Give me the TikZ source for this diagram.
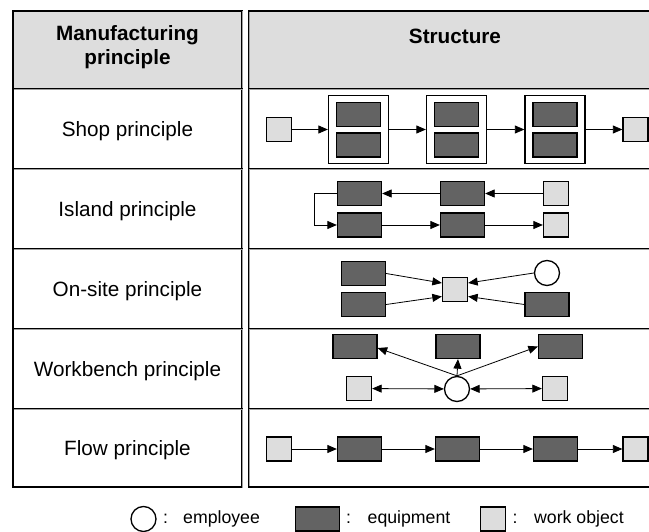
\documentclass[tikz,border=0pt]{standalone}
\usepackage{fontspec}
\setmainfont{Liberation Sans}
\usetikzlibrary{arrows.meta,calc}
\definecolor{wofill}{HTML}{DDDDDD}
\definecolor{eqfill}{HTML}{636363}
\definecolor{hdrfill}{HTML}{DDDDDD}
\definecolor{corecol}{HTML}{A0A0A0}
\begin{document}
\begin{tikzpicture}[x=1pt,y=-1pt,
  cellb/.style={draw=black, line width=0.9pt, double=corecol, double distance=0.9pt},
  outerb/.style={draw=black, line width=2.6pt},
  wo/.style={draw=black, line width=1.3pt, fill=wofill, minimum width=25pt, minimum height=24pt, inner sep=0pt},
  eq/.style={draw=black, line width=1.3pt, fill=eqfill, minimum width=44pt, minimum height=24pt, inner sep=0pt},
  emp/.style={circle, draw=black, line width=1.3pt, fill=white, minimum size=25pt, inner sep=0pt},
  frm/.style={draw=black, line width=1.3pt, fill=white, minimum width=60pt, minimum height=68pt, inner sep=0pt},
  tip/.tip={Triangle[length=9.5pt,width=8pt]},
  arr/.style={line width=0.8pt, -tip},
  darr/.style={line width=0.8pt, tip-tip},
  lbl/.style={font=\fontsize{20.7}{24}\selectfont, align=center, inner sep=0pt},
  hlbl/.style={font=\fontsize{20.7}{24}\selectfont\bfseries, align=center, inner sep=0pt},
  lgd/.style={font=\fontsize{17.7}{20}\selectfont, inner sep=0pt, anchor=west},
]
\path[use as bounding box, clip] (0,0) rectangle (649,532);
\fill[white] (0,0) rectangle (649,532);

% table cells
\filldraw[cellb, fill=hdrfill] (13,11) rectangle (242,89);
\filldraw[cellb, fill=hdrfill] (249,11) rectangle (662,89);
\foreach \ya/\yb in {89/169, 169/249, 249/329, 329/409, 409/487} {
  \draw[cellb] (13,\ya) rectangle (242,\yb);
  \draw[cellb] (249,\ya) rectangle (662,\yb);
}
\draw[outerb] (13,487) -- (13,11) -- (242,11);
\draw[outerb] (249,11) -- (662,11);
\draw[outerb] (13,487) -- (242,487);
\draw[outerb] (249,487) -- (662,487);

% header texts
\node[hlbl] (hmp) at (127.5,47) {Manufacturing\\principle};
\node[hlbl] (hst) at (455,36) {Structure};

% row labels
\node[lbl] (lshop) at (127.5,131) {Shop principle};
\node[lbl] (lisl) at (127.5,211) {Island principle};
\node[lbl] (lons) at (127.5,291) {On-site principle};
\node[lbl] (lwb) at (127.5,371) {Workbench principle};
\node[lbl] (lflow) at (127.5,450) {Flow principle};

% Shop principle
\node[wo] (s0) at (279,129.5) {};
\foreach \i/\x in {1/358.5, 2/456.5, 3/555} {
  \node[frm] (sf\i) at (\x,129.5) {};
  \node[eq] (sa\i) at (\x,114.5) {};
  \node[eq] (sb\i) at (\x,145) {};
}
\node[wo] (s4) at (635.5,129.5) {};
\draw[arr] (s0) -- (sf1);
\draw[arr] (sf1) -- (sf2);
\draw[arr] (sf2) -- (sf3);
\draw[arr] (sf3) -- (s4);

% Island principle
\node[eq] (it1) at (359.5,193.5) {};
\node[eq] (it2) at (462.5,193.5) {};
\node[wo] (it3) at (556,193.5) {};
\node[eq] (ib1) at (359.5,225) {};
\node[eq] (ib2) at (462.5,225) {};
\node[wo] (ib3) at (556,225) {};
\coordinate (iloop) at (314,193.5);
\draw[arr] (it3) -- (it2);
\draw[arr] (it2) -- (it1);
\draw[arr] (it1.west) -- (iloop) |- (ib1.west);
\draw[arr] (ib1) -- (ib2);
\draw[arr] (ib2) -- (ib3);

% On-site principle
\node[eq] (o1) at (363.5,273.5) {};
\node[eq] (o2) at (363.5,304.5) {};
\node[wo] (oc) at (455,289.5) {};
\node[emp] (oe) at (547,273) {};
\node[eq] (o3) at (547,304.5) {};
\draw[arr] (o1.east) -- ($(oc.west)+(0,-6.5)$);
\draw[arr] (o2.east) -- ($(oc.west)+(0,7)$);
\draw[arr] (oe.west) -- ($(oc.east)+(0,-6.5)$);
\draw[arr] (o3.west) -- ($(oc.east)+(0,7)$);

% Workbench principle
\node[eq] (w1) at (355,346.5) {};
\node[eq] (w2) at (458,346.5) {};
\node[eq] (w3) at (560.5,346.5) {};
\node[wo] (w4) at (359,388.5) {};
\node[emp] (we) at (457,389) {};
\node[wo] (w5) at (555,388.5) {};
\draw[arr] (we.north) -- ($(w1.east)+(0,1.5)$);
\draw[arr] (we.north) -- (w2.south);
\draw[arr] (we.north) -- (w3.west);
\draw[darr] (w4) -- (we);
\draw[darr] (we) -- (w5);

% Flow principle
\node[wo] (f0) at (279,449) {};
\node[eq] (f1) at (359.5,449) {};
\node[eq] (f2) at (457.5,449) {};
\node[eq] (f3) at (555.5,449) {};
\node[wo] (f4) at (635.5,449) {};
\draw[arr] (f0) -- (f1);
\draw[arr] (f1) -- (f2);
\draw[arr] (f2) -- (f3);
\draw[arr] (f3) -- (f4);

% Legend
\node[emp] (le) at (143.5,519) {};
\node[lgd] (lec) at (163,519) {:};
\node[lgd] (let) at (183,519) {employee};
\node[eq] (lq) at (317.5,519) {};
\node[lgd] (lqc) at (346,519) {:};
\node[lgd] (lqt) at (367.5,519) {equipment};
\node[wo] (lw) at (493,519) {};
\node[lgd] (lwc) at (512.5,519) {:};
\node[lgd] (lwt) at (534,519) {work object};
\end{tikzpicture}
\end{document}
